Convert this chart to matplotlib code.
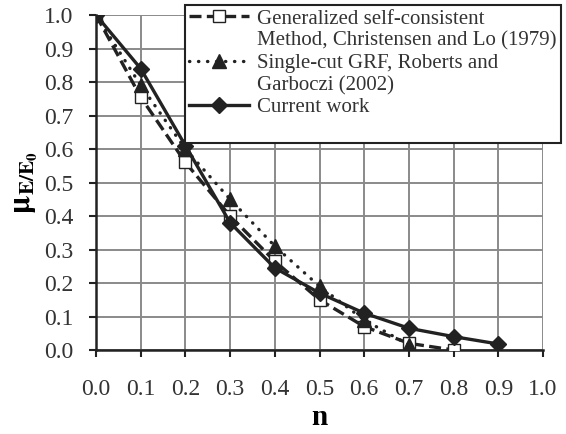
import matplotlib.pyplot as plt
from matplotlib.lines import Line2D

# data
n_gsc = [0.0, 0.1, 0.2, 0.3, 0.4, 0.5, 0.6, 0.7, 0.8]
mu_gsc = [1.0, 0.755, 0.56, 0.40, 0.265, 0.15, 0.07, 0.02, 0.0]

n_grf = [0.0, 0.1, 0.2, 0.3, 0.4, 0.5, 0.6, 0.7]
mu_grf = [1.0, 0.79, 0.60, 0.45, 0.31, 0.19, 0.09, 0.015]

n_cur = [0.0, 0.1, 0.2, 0.3, 0.4, 0.5, 0.6, 0.7, 0.8, 0.9]
mu_cur = [1.0, 0.84, 0.61, 0.38, 0.245, 0.17, 0.11, 0.065, 0.04, 0.018]

ticks = [0.0, 0.1, 0.2, 0.3, 0.4, 0.5, 0.6, 0.7, 0.8, 0.9, 1.0]
tick_labels = ["%.1f" % t for t in ticks]

plt.rcParams["font.family"] = ["Liberation Serif", "DejaVu Serif"]
plt.rcParams["mathtext.fontset"] = "stix"

fig = plt.figure(figsize=(5.66, 4.34), dpi=100)
ax = fig.add_axes([0.1696, 0.1935, 0.7898, 0.7719])

c = "#222222"
dashed = (0, (3.6, 1.6))
dotted = (0, (0.1, 2.6))
ax.plot(n_gsc, mu_gsc, color=c, lw=2.4, ls=dashed, marker="s", ms=8,
        mfc="white", mec=c, mew=1.0, zorder=3)
ax.plot(n_grf, mu_grf, color=c, lw=2.4, ls=dotted, dash_capstyle="round",
        marker="^", ms=9.5, mfc=c, mec=c, zorder=4)
ax.plot(n_cur, mu_cur, color=c, lw=2.4, ls="-", marker="D", ms=8,
        mfc=c, mec=c, zorder=5)

ax.set_xlim(0, 1.0)
ax.set_ylim(0, 1.0)
ax.set_xticks(ticks)
ax.set_xticklabels(tick_labels)
ax.set_yticks(ticks)
ax.set_yticklabels(tick_labels)
ax.tick_params(axis="both", labelsize=17, direction="out", length=5, width=1.5,
               color=c, labelcolor="#333333")
ax.tick_params(axis="x", pad=16)
ax.tick_params(axis="y", pad=11)
ax.grid(True, color="#8a8a8a", lw=1.4)
ax.set_axisbelow(True)
for s in ["top", "right"]:
    ax.spines[s].set_visible(False)
for s in ["left", "bottom"]:
    ax.spines[s].set_color(c)
    ax.spines[s].set_linewidth(1.8)

ax.set_xlabel("n", fontsize=21, fontweight="bold", labelpad=3)
ax.set_ylabel(r"$\mathbf{\mu_{E/E_0}}$", fontsize=22, labelpad=3)

# legend with the handle on the first line of each label
blank = Line2D([], [], color="none")
handles = [
    Line2D([], [], color=c, lw=2.4, ls=dashed, marker="s", ms=8,
           mfc="white", mec=c, mew=1.0),
    blank,
    Line2D([], [], color=c, lw=2.4, ls=dotted, dash_capstyle="round",
           marker="^", ms=9.5, mfc=c, mec=c),
    blank,
    Line2D([], [], color=c, lw=2.4, ls="-", marker="D", ms=8, mfc=c, mec=c),
    blank,
]
labels = [
    "Generalized self-consistent",
    "Method, Christensen and Lo (1979)",
    "Single-cut GRF, Roberts and",
    "Garboczi (2002)",
    "Current work",
    " ",
]
leg = fig.legend(handles, labels, loc="upper left", bbox_to_anchor=(185 / 566, 1 - 5 / 434),
                 fontsize=15, handlelength=2.85, handletextpad=0.4, labelspacing=0.12,
                 borderpad=0.2, borderaxespad=0, fancybox=False, framealpha=1,
                 edgecolor=c, labelcolor="#333333")
leg.get_frame().set_linewidth(1.5)

fig.savefig("out.png", dpi=100)
